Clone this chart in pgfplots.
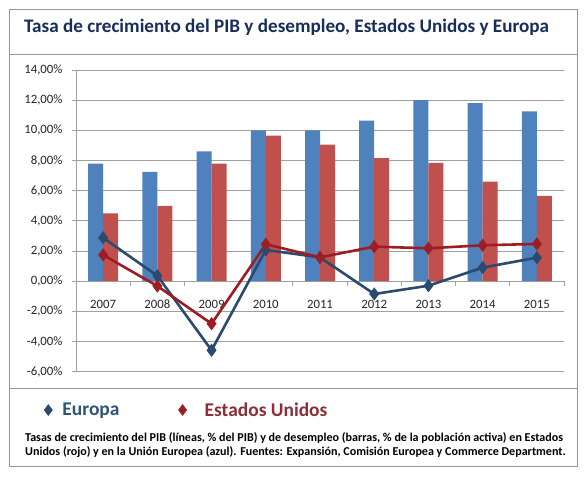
\documentclass[border=0pt]{standalone}
\usepackage{pgfplots}
\pgfplotsset{compat=1.18}
\usepackage{fontspec}
\setmainfont{Carlito}
\definecolor{barblue}{RGB}{79,129,189}
\definecolor{barred}{RGB}{192,80,77}
\definecolor{euline}{RGB}{42,74,110}
\definecolor{usline}{RGB}{158,28,36}
\definecolor{titleblue}{RGB}{23,45,90}
\definecolor{eutext}{RGB}{45,85,120}
\definecolor{ustext}{RGB}{140,45,55}
\definecolor{framegray}{RGB}{150,150,150}
\definecolor{gridgray}{RGB}{160,160,160}
\begin{document}
\begin{tikzpicture}
\useasboundingbox (0,0) rectangle (585bp,480bp);
\fill[white] (0,0) rectangle (585bp,480bp);
\draw[framegray, line width=1bp] (9bp,13bp) rectangle (577bp,470bp);
\draw[framegray, line width=1bp] (9bp,425bp) -- (577bp,425bp);
\draw[framegray, line width=1bp] (9bp,91bp) -- (577bp,91bp);
\node[anchor=base west, inner sep=0pt, text=titleblue, font=\bfseries\fontsize{19.2}{22}\selectfont] at (24bp,447bp) {Tasa de crecimiento del PIB y desempleo, Estados Unidos y Europa};
\node[anchor=base west, inner sep=0pt, font=\bfseries\fontsize{12.1}{14}\selectfont] at (25bp,38.5bp) {Tasas de crecimiento del PIB (líneas, \% del PIB) y de desempleo (barras, \% de la población activa) en Estados};
\node[anchor=base west, inner sep=0pt, font=\bfseries\fontsize{12.1}{14}\selectfont] at (25bp,24.5bp) {Unidos (rojo) y en la Unión Europea (azul). Fuentes: Expansión, Comisión Europea y Commerce Department.};
\begin{axis}[
  at={(76bp,108.3bp)}, anchor=south west,
  scale only axis, width=488bp, height=301.7bp,
  xmin=-0.5, xmax=8.5, ymin=-6, ymax=14,
  axis x line*=middle, axis y line*=left,
  axis line style={gridgray, line width=0.8bp},
  xtick={0,...,8}, xticklabels={2007,2008,2009,2010,2011,2012,2013,2014,2015},
  minor xtick={-0.5,0.5,...,8.5},
  ytick={-6,-4,...,14},
  tick align=outside,
  major tick length=4bp, minor tick length=5bp,
  tick style={gridgray, line width=0.8bp},
  major x tick style={draw=none},
  ymajorgrids, major grid style={gridgray, line width=0.8bp},
  hide obscured y ticks=false,
  /pgf/number format/assume math mode=true,
  yticklabel={\pgfmathprintnumber[fixed,fixed zerofill,precision=2,use comma,assume math mode=true]{\tick}\%},
  ticklabel style={font=\fontsize{12.8}{14}\selectfont, text=black!85},
  yticklabel style={xshift=-6bp},
  xticklabel style={anchor=center, yshift=-18.8bp},
  clip=false,
  legend columns=2,
  legend style={draw=none, fill=none, inner sep=0pt, at={(rel axis cs:-0.0656,-0.127)}, anchor=west,
    font=\bfseries\fontsize{19.5}{21}\selectfont,
    /tikz/column 1/.style={column sep=8bp},
    /tikz/column 2/.style={column sep=57bp},
    /tikz/column 3/.style={column sep=16bp}},
]
\addplot[ybar, bar width=15bp, bar shift=-7.5bp, fill=barblue, draw=none, forget plot]
  coordinates {(0,7.8) (1,7.25) (2,8.6) (3,10.0) (4,10.0) (5,10.65) (6,12.0) (7,11.8) (8,11.25)};
\addplot[ybar, bar width=15bp, bar shift=7.5bp, fill=barred, draw=none, forget plot]
  coordinates {(0,4.5) (1,5.0) (2,7.8) (3,9.65) (4,9.05) (5,8.15) (6,7.85) (7,6.6) (8,5.65)};
\addplot[color=euline, line width=2.6bp, mark=diamond*, mark size=4.5bp, mark options={solid}, forget plot]
  coordinates {(0,2.88) (1,0.36) (2,-4.58) (3,2.07) (4,1.58) (5,-0.85) (6,-0.3) (7,0.9) (8,1.56)};
\addplot[color=usline, line width=2.6bp, mark=diamond*, mark size=4.5bp, mark options={solid}, forget plot]
  coordinates {(0,1.74) (1,-0.32) (2,-2.82) (3,2.45) (4,1.58) (5,2.29) (6,2.18) (7,2.38) (8,2.47)};
\addlegendimage{only marks, mark=diamond*, mark size=5.5bp, color=euline}
\addlegendentry{\textcolor{eutext}{Europa}}
\addlegendimage{only marks, mark=diamond*, mark size=5.5bp, color=usline}
\addlegendentry{\textcolor{ustext}{Estados Unidos}}
\end{axis}
\end{tikzpicture}
\end{document}
